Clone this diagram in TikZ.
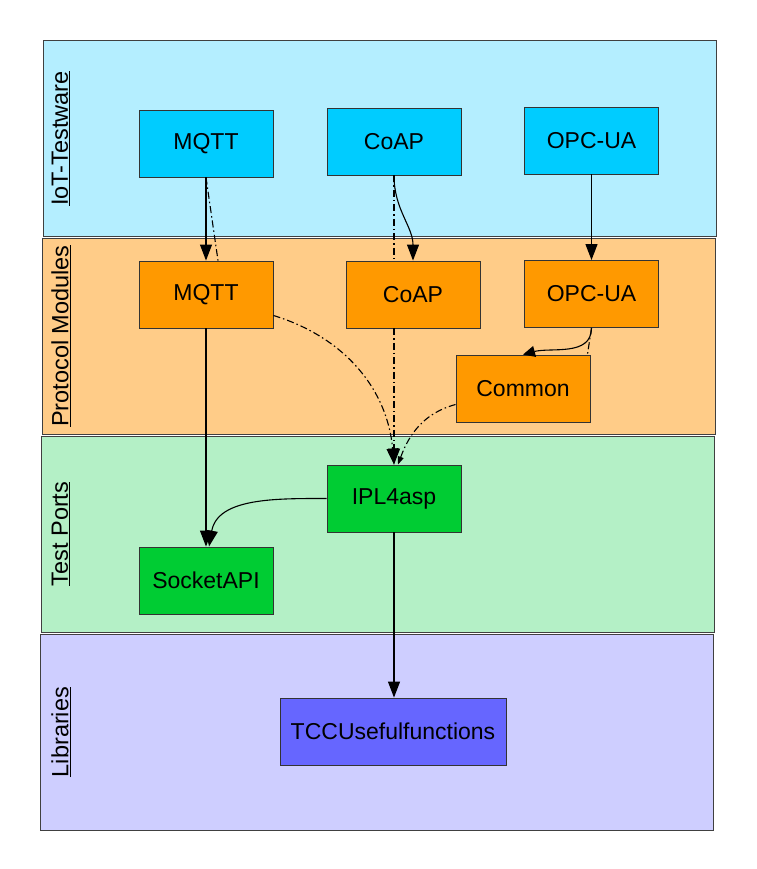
\documentclass[tikz,border=0pt]{standalone}
\usepackage{fontspec}
\setmainfont{Liberation Sans}
\usetikzlibrary{arrows.meta}
\definecolor{iotbg}{RGB}{180,238,255}
\definecolor{iotbox}{RGB}{0,204,255}
\definecolor{protbg}{RGB}{255,204,136}
\definecolor{protbox}{RGB}{255,153,0}
\definecolor{portbg}{RGB}{180,240,198}
\definecolor{portbox}{RGB}{0,204,51}
\definecolor{libbg}{RGB}{206,206,255}
\definecolor{libbox}{RGB}{102,102,255}
\tikzstyle{layer}=[draw=black!75, line width=0.8pt, minimum width=673pt, minimum height=196pt, inner sep=0pt]
\tikzstyle{module}=[draw=black!80, line width=0.9pt, minimum width=134pt, minimum height=67pt, font=\fontsize{23}{27}\selectfont]
\tikzstyle{dashdot}=[dash pattern=on 7pt off 3pt on 1.5pt off 3pt]
\tikzset{>={Triangle[length=16pt,width=12pt]}}

\begin{document}
\begin{tikzpicture}[x=1pt, y=1pt, line width=1.1pt]
        \useasboundingbox (0,0) rectangle (756,-869);

        % Layers
        \foreach \name/\xpos/\ypos/\col/\txt in {iot/379.5/-138.5/iotbg/IoT-Testware,
            prot/378.5/-336/protbg/Protocol Modules,
            ports/377.5/-534/portbg/Test Ports,
            libs/376.5/-732/libbg/Libraries}
        {
          \node at (\xpos, \ypos) [layer, fill=\col] (\name) {};
          \node at (61, \ypos) [rotate=90, font=\fontsize{23.5}{27}\selectfont] (\name_label) {\underline{\txt}};
        }

        % IoT-Testware
        \node at (206, -143.5) [module, fill=iotbox] (tw_mqtt) {MQTT};
        \node at (394, -141.5) [module, fill=iotbox] (tw_coap) {CoAP};
        \node at (591.5, -140.5) [module, fill=iotbox] (tw_opcua) {OPC-UA};

        % Protocol Modules
        \node at (206, -294.5) [module, fill=protbox] (pm_mqtt) {MQTT};
        \node at (413, -294.5) [module, fill=protbox] (pm_coap) {CoAP};
        \node at (591.5, -294) [module, fill=protbox] (pm_opcua) {OPC-UA};
        \node at (523, -388.5) [module, fill=protbox] (common) {Common};

        % Test Ports
        \node at (394, -498.5) [module, fill=portbox] (ipl) {IPL4asp};
        \node at (206, -580.5) [module, fill=portbox] (socket) {SocketAPI};

        % Libraries
        \node at (393, -731.5) [module, fill=libbox, minimum width=226pt] (tcc) {TCCUsefulfunctions};

        % Connectors
        \draw [->] (tw_mqtt) to (pm_mqtt);
        \draw [dashdot] (tw_mqtt.south) to ([xshift=12pt]pm_mqtt.north);
        \draw [->] (tw_coap.south) to[out=-90, in=90] (pm_coap.north);
        \draw [dashdot] (tw_coap.south) to (tw_coap.south |- pm_coap.north);
        \draw [dashdot, ->] (tw_coap.south |- pm_coap.south) to (ipl.north);
        \draw [->] (tw_opcua) to (pm_opcua);

        \draw [dashdot, ->] ([yshift=-21pt]pm_mqtt.east) to[out=-17, in=95] (ipl.north);
        \draw [->, >={Triangle[length=12pt,width=11pt]}] (pm_opcua.south) to[out=-90, in=15] (common.north);
        \draw [dashdot] (pm_opcua.south) to ([xshift=-3pt]common.north east);
        \draw [dashdot, ->, >={Triangle[length=8pt,width=6pt]}] ([yshift=-16pt]common.west) to[out=195, in=70] ([xshift=4pt]ipl.north);

        \draw [->] (pm_mqtt) to (socket);
        \draw [->] (ipl.west) to[out=180, in=80] ([xshift=3pt]socket.north);
        \draw [->] (ipl.south) to (tcc.north -| ipl.south);
      \end{tikzpicture}
\end{document}
